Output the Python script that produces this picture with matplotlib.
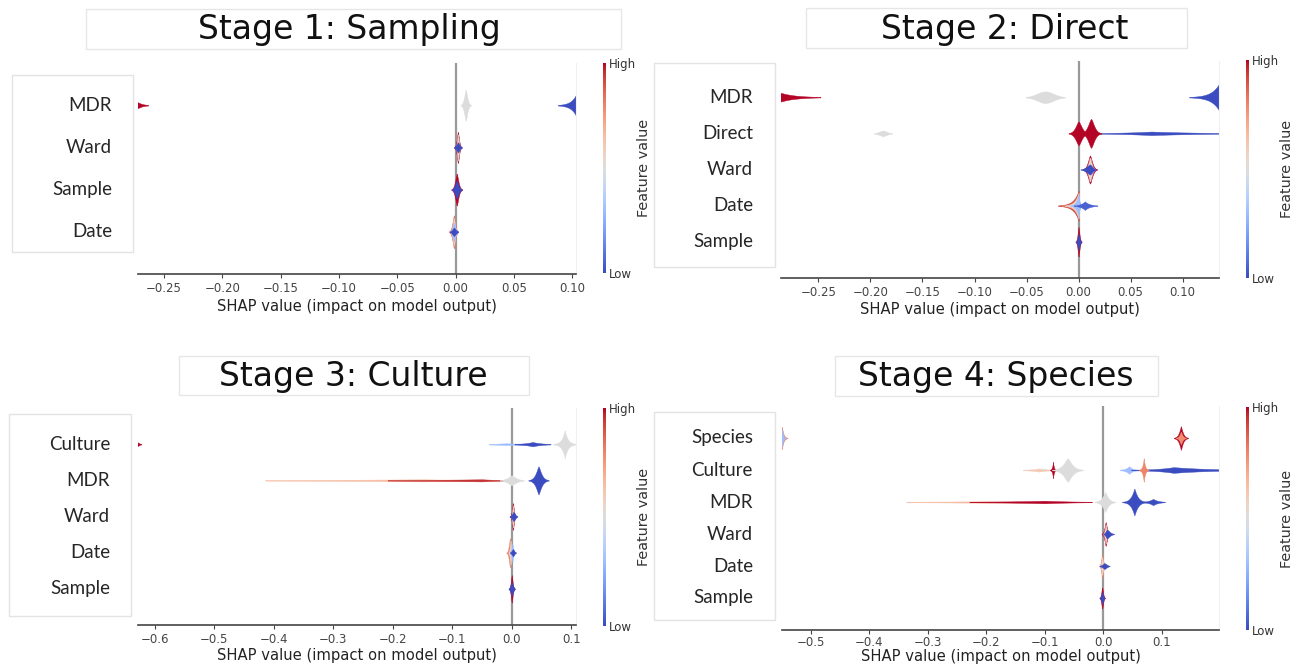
import numpy as np
import matplotlib
matplotlib.use("Agg")
import matplotlib.pyplot as plt
from matplotlib.patches import Rectangle
from matplotlib.transforms import blended_transform_factory
from matplotlib.cm import ScalarMappable
from matplotlib.colors import Normalize

# ---------------- data ----------------
titles = ["Stage 1: Sampling", "Stage 2: Direct", "Stage 3: Culture", "Stage 4: Species"]
xlabel_text = "SHAP value (impact on model output)"
cbar_labels = ["Low", "High"]
cbar_title = "Feature value"

# Panel 1
p1_features = ["MDR", "Ward", "Sample", "Date"]
p1_ticks = [-0.25, -0.20, -0.15, -0.10, -0.05, 0.00, 0.05, 0.10]
p1_blob_feature = ["MDR", "MDR", "MDR", "Ward", "Ward", "Ward", "Sample", "Sample",
                   "Date", "Date", "Date", "Date"]
p1_center = [-0.2724, 0.0087, 0.1045, 0.002, 0.002, 0.002, 0.001, 0.001,
             -0.0014, -0.0014, -0.0014, -0.0014]
p1_spread_l = [0.004, 0.0018, 0.0045, 0.0013, 0.001, 0.0018, 0.0019, 0.002,
               0.0018, 0.0014, 0.0016, 0.002]
p1_spread_r = [0.004, 0.0018, 0.0045, 0.0013, 0.001, 0.0018, 0.0019, 0.002,
               0.0015, 0.0012, 0.0016, 0.002]
p1_height = [0.07, 0.37, 0.33, 0.37, 0.31, 0.12, 0.38, 0.21, 0.39, 0.33, 0.22, 0.1]
p1_color = [1.0, 0.5, 0.0, 1.0, 0.55, 0.0, 1.0, 0.0, 0.85, 0.55, 0.3, 0.0]
p1_shape = [1, 1.5, 1, 1.5, 1.5, 1.5, 1.5, 1.5, 1.5, 1.5, 1.5, 1.5]

# Panel 2
p2_features = ["MDR", "Direct", "Ward", "Date", "Sample"]
p2_ticks = [-0.25, -0.20, -0.15, -0.10, -0.05, 0.00, 0.05, 0.10]
p2_blob_feature = ["MDR", "MDR", "MDR", "MDR",
                   "Direct", "Direct", "Direct", "Direct",
                   "Ward", "Ward", "Ward",
                   "Date", "Date", "Date", "Date", "Date",
                   "Sample", "Sample"]
p2_center = [-0.286, -0.032, -0.032, 0.1365,
             -0.188, 0.07, 0.0, 0.012,
             0.011, 0.011, 0.011,
             0.0, 0.0, 0.0, 0.0, 0.006,
             0.0, 0.0]
p2_spread_l = [0.014, 0.011, 0.009, 0.0075,
               0.005, 0.03, 0.004, 0.004,
               0.0028, 0.0022, 0.0045,
               0.005, 0.0042, 0.0035, 0.0022, 0.004,
               0.0012, 0.0012]
p2_spread_r = [0.014, 0.011, 0.009, 0.0075,
               0.005, 0.045, 0.004, 0.004,
               0.0028, 0.0022, 0.003,
               0.0006, 0.0005, 0.0005, 0.001, 0.0045,
               0.0012, 0.0012]
p2_height = [0.12, 0.16, 0.05, 0.45,
             0.08, 0.05, 0.33, 0.40,
             0.39, 0.33, 0.14,
             0.41, 0.38, 0.35, 0.32, 0.12,
             0.41, 0.22]
p2_color = [1.0, 0.5, 0.5, 0.0,
            0.5, 0.0, 1.0, 1.0,
            1.0, 0.55, 0.0,
            0.95, 0.8, 0.55, 0.3, 0.05,
            1.0, 0.0]
p2_shape = [1, 2, 1, 1,
            1.5, 1, 1.5, 1.5,
            1.5, 1.5, 1.5,
            1, 1, 1, 1, 1,
            1.5, 1.5]

# Panel 3
p3_features = ["Culture", "MDR", "Ward", "Date", "Sample"]
p3_ticks = [-0.6, -0.5, -0.4, -0.3, -0.2, -0.1, 0.0, 0.1]
p3_blob_feature = ["Culture", "Culture", "Culture", "Culture",
                   "MDR", "MDR", "MDR", "MDR",
                   "Ward", "Ward", "Ward",
                   "Date", "Date", "Date", "Date",
                   "Sample", "Sample"]
p3_center = [-0.628, -0.01, 0.035, 0.089,
             -0.15, -0.05, 0.0, 0.045,
             0.002, 0.002, 0.003,
             -0.003, -0.002, 0.001, 0.002,
             0.0, 0.0]
p3_spread_l = [0.003, 0.025, 0.015, 0.005,
               0.2, 0.12, 0.009, 0.006,
               0.0021, 0.0016, 0.0034,
               0.0024, 0.0016, 0.002, 0.0028,
               0.002, 0.0025]
p3_spread_r = [0.003, 0.04, 0.015, 0.005,
               0.1, 0.03, 0.009, 0.006,
               0.0021, 0.0016, 0.0034,
               0.0016, 0.0016, 0.002, 0.0028,
               0.002, 0.0025]
p3_height = [0.05, 0.025, 0.06, 0.39,
             0.03, 0.03, 0.14, 0.39,
             0.37, 0.30, 0.13,
             0.40, 0.33, 0.25, 0.10,
             0.38, 0.20]
p3_color = [1.0, 0.3, 0.0, 0.5,
            0.65, 0.95, 0.5, 0.0,
            1.0, 0.55, 0.0,
            0.8, 0.55, 0.3, 0.0,
            1.0, 0.0]
p3_shape = [1, 1, 1, 1,
            1, 1, 1.3, 1.3,
            1.5, 1.5, 1.5,
            1.5, 1.5, 1.5, 1.5,
            1.5, 1.5]

# Panel 4
p4_features = ["Species", "Culture", "MDR", "Ward", "Date", "Sample"]
p4_ticks = [-0.5, -0.4, -0.3, -0.2, -0.1, 0.0, 0.1]
p4_blob_feature = ["Species", "Species", "Species", "Species",
                   "Culture", "Culture", "Culture", "Culture", "Culture", "Culture",
                   "MDR", "MDR", "MDR", "MDR", "MDR",
                   "Ward", "Ward", "Ward",
                   "Date", "Date", "Date",
                   "Sample", "Sample"]
p4_center = [-0.549, -0.549, 0.1325, 0.1325,
             -0.11, -0.086, -0.061, 0.044, 0.12, 0.069,
             -0.2, -0.1, 0.003, 0.053, 0.085,
             0.004, 0.004, 0.006,
             -0.002, -0.002, 0.002,
             -0.002, -0.002]
p4_spread_l = [0.0025, 0.0018, 0.004, 0.0032,
               0.015, 0.0015, 0.0095, 0.006, 0.03, 0.0022,
               0.12, 0.08, 0.006, 0.006, 0.008,
               0.0028, 0.0021, 0.003,
               0.0022, 0.0016, 0.0048,
               0.002, 0.002]
p4_spread_r = [0.0025, 0.0018, 0.004, 0.0032,
               0.015, 0.0015, 0.0095, 0.006, 0.06, 0.0022,
               0.1, 0.05, 0.006, 0.006, 0.008,
               0.0028, 0.0021, 0.006,
               0.0022, 0.0016, 0.0048,
               0.002, 0.002]
p4_height = [0.35, 0.28, 0.37, 0.2,
             0.05, 0.26, 0.37, 0.12, 0.09, 0.37,
             0.025, 0.04, 0.31, 0.42, 0.10,
             0.37, 0.30, 0.14,
             0.36, 0.28, 0.09,
             0.33, 0.19]
p4_color = [0.8, 0.3, 1.0, 0.78,
            0.6, 1.0, 0.5, 0.3, 0.0, 0.8,
            0.65, 1.0, 0.5, 0.0, 0.0,
            1.0, 0.55, 0.0,
            0.8, 0.55, 0.0,
            1.0, 0.0]
p4_shape = [1, 1, 1.2, 1.2,
            1, 1, 1.3, 1, 1, 1,
            1, 1, 1.2, 1.1, 1,
            1.5, 1.5, 1.5,
            1.5, 1.5, 1.5,
            1.5, 1.5]

panels = [
    (p1_features, p1_ticks, p1_blob_feature, p1_center, p1_spread_l, p1_spread_r, p1_height, p1_color, p1_shape),
    (p2_features, p2_ticks, p2_blob_feature, p2_center, p2_spread_l, p2_spread_r, p2_height, p2_color, p2_shape),
    (p3_features, p3_ticks, p3_blob_feature, p3_center, p3_spread_l, p3_spread_r, p3_height, p3_color, p3_shape),
    (p4_features, p4_ticks, p4_blob_feature, p4_center, p4_spread_l, p4_spread_r, p4_height, p4_color, p4_shape),
]

# ---------------- layout (pixels) ----------------
W, H = 1301, 667
layout = [
    dict(ax=(138, 63, 576, 274), xlim=(-0.2724, 0.1033), tbox=(86, 9, 621, 49), ttxt=(349, 30),
         lbox=(12, 75, 133, 252), lright=112, cax=(603, 63, 606, 273), labelpad=3, tickpad=3, tickfmt="%.2f"),
    dict(ax=(781, 61, 1219, 278), xlim=(-0.286, 0.135), tbox=(806, 8, 1187, 48), ttxt=(1005, 29),
         lbox=(654, 63, 775, 267), lright=753, cax=(1246, 60, 1249, 278), labelpad=2, tickpad=3, tickfmt="%.2f"),
    dict(ax=(138, 408, 576, 625), xlim=(-0.628, 0.108), tbox=(179, 356, 529, 395), ttxt=(353, 377),
         lbox=(9, 414, 131, 616), lright=110, cax=(603, 408, 606, 626), labelpad=1, tickpad=3, tickfmt="%.1f"),
    dict(ax=(782, 406, 1219, 630), xlim=(-0.549, 0.1976), tbox=(835, 356, 1158, 396), ttxt=(996, 377),
         lbox=(654, 412, 775, 620), lright=753, cax=(1246, 407, 1249, 630), labelpad=0, tickpad=1.5, tickfmt="%.1f"),
]

cmap = plt.get_cmap("coolwarm")
fig = plt.figure(figsize=(W / 100, H / 100), dpi=100)


def px_axes(l, t, r, b):
    return fig.add_axes([l / W, 1 - b / H, (r - l) / W, (b - t) / H])


def px_box(l, t, r, b, ec="#e3e3e3"):
    fig.patches.append(Rectangle((l / W, 1 - b / H), (r - l) / W, (b - t) / H,
                                 transform=fig.transFigure, fc="white", ec=ec, lw=1.0, zorder=-5))


for (features, ticks, bfeat, cen, sl, sr, hh, col, shp), lay, title in zip(panels, layout, titles):
    n = len(features)
    ax = px_axes(*lay["ax"])
    ax.set_xlim(*lay["xlim"])
    ax.set_ylim(-1, n)
    ax.patch.set_alpha(0)
    ax.axvline(0, color="#999999", lw=1.6, zorder=0)
    for f, c, a, b, h, v, p in zip(bfeat, cen, sl, sr, hh, col, shp):
        y = n - 1 - features.index(f)
        thr = 0.008
        ext = np.log(h / thr) ** (1.0 / p)
        xs = np.linspace(c - a * ext, c + b * ext, 500)
        d = np.where(xs < c, (c - xs) / a, (xs - c) / b)
        prof = h * np.exp(-d ** p)
        ax.fill_between(xs, y - prof, y + prof, color=cmap(v), lw=0.3, edgecolor=cmap(v), zorder=2)
    for s in ["left", "top"]:
        ax.spines[s].set_visible(False)
    ax.spines["right"].set_color("#f0f0f0")
    ax.spines["bottom"].set_color("#444444")
    ax.spines["bottom"].set_linewidth(1.2)
    ax.set_yticks([])
    ax.set_xticks(ticks)
    ax.set_xticklabels([(lay["tickfmt"] % t).replace("-", "\u2212") for t in ticks])
    ax.tick_params(axis="x", labelsize=8.5, colors="#444444", length=3, width=0.8, pad=lay["tickpad"])
    ax.set_xlabel(xlabel_text, fontsize=10.6, color="#222222", labelpad=lay["labelpad"])

    # feature label box
    px_box(*lay["lbox"])
    tr = blended_transform_factory(fig.transFigure, ax.transData)
    for i, name in enumerate(features):
        ax.text(lay["lright"] / W, n - 1 - i, name, transform=tr, ha="right", va="center",
                fontsize=13.5, family=["Lato", "DejaVu Sans"], color="#262626", clip_on=False)

    # title box
    px_box(*lay["tbox"], ec="#e6e6e6")
    fig.text(lay["ttxt"][0] / W, 1 - lay["ttxt"][1] / H, title, ha="center", va="center",
             fontsize=23.8, color="#111111")

    # colorbar
    cax = px_axes(*lay["cax"])
    cb = fig.colorbar(ScalarMappable(norm=Normalize(0, 1), cmap=cmap), cax=cax, ticks=[0, 1])
    cb.set_ticklabels(cbar_labels)
    cb.outline.set_visible(False)
    cb.ax.tick_params(length=0, labelsize=8.5, pad=2, colors="#333333")
    cb.set_label(cbar_title, fontsize=10.4, labelpad=1, color="#333333")

fig.savefig("out.png", dpi=100, facecolor="white")
